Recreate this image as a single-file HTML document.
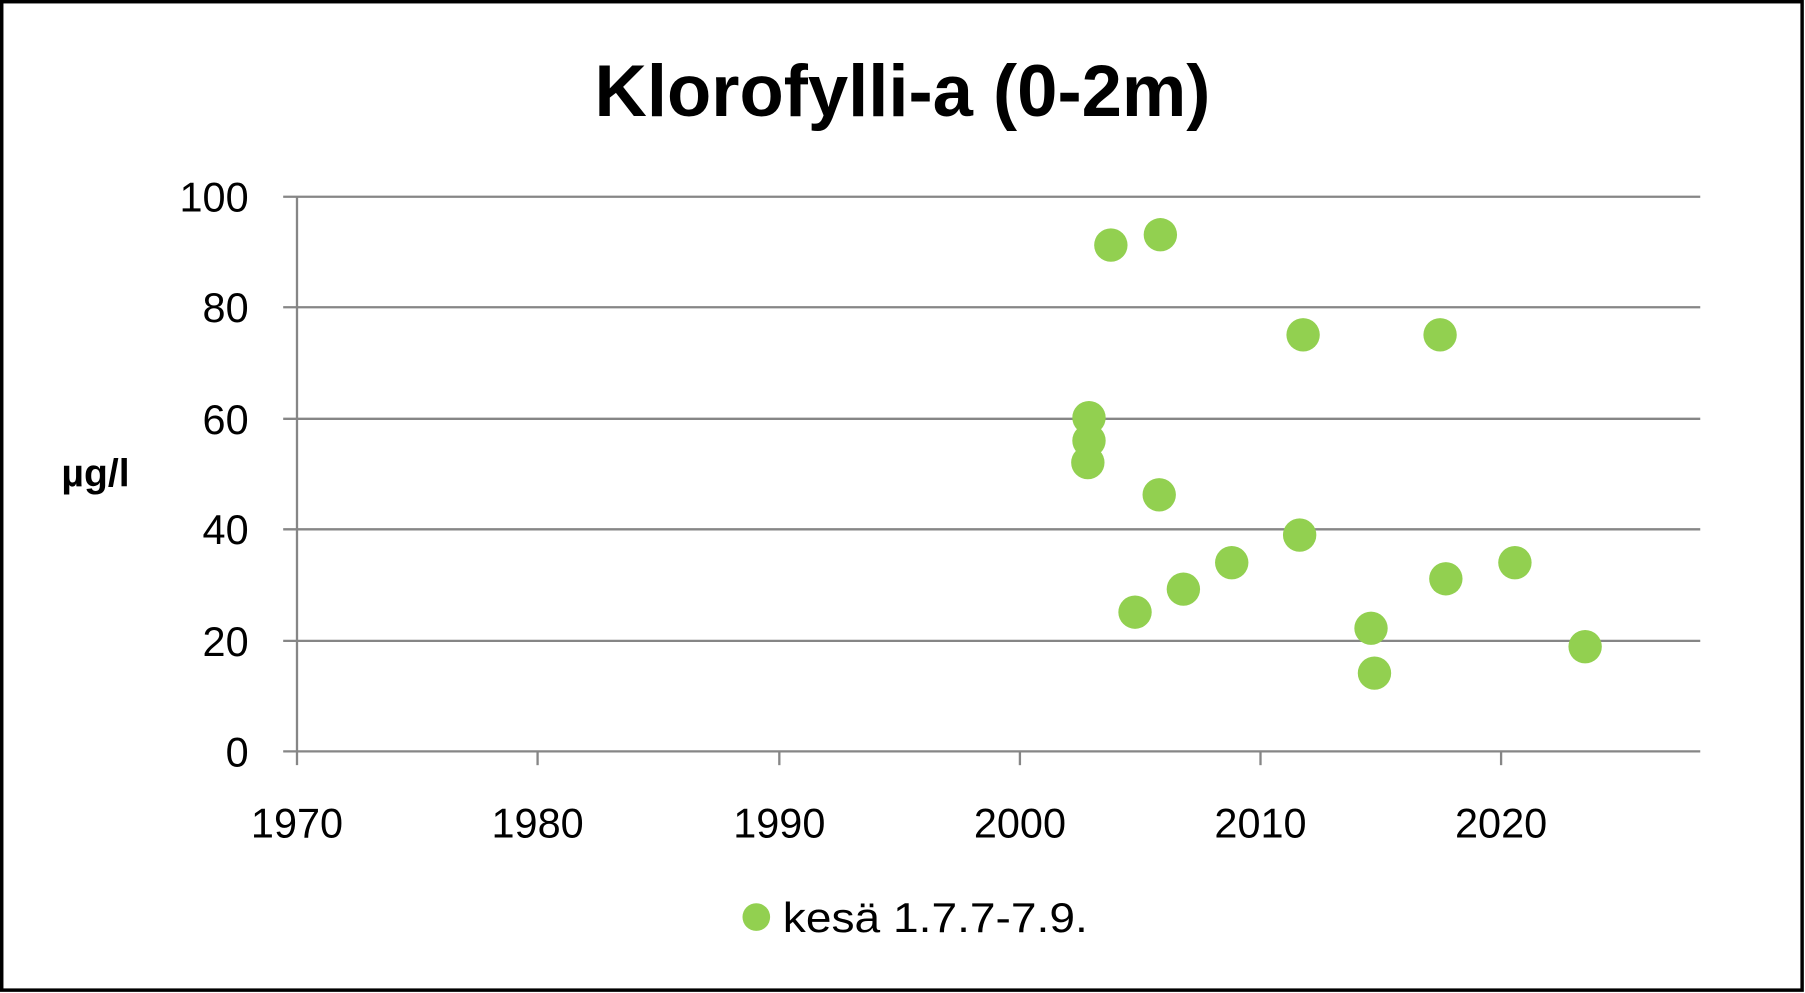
<!DOCTYPE html>
<html><head><meta charset="utf-8"><style>html,body{margin:0;padding:0;background:#fff;}svg{display:block;}</style></head>
<body>
<svg width="1805" height="993" viewBox="0 0 1568 863" preserveAspectRatio="none" xmlns="http://www.w3.org/2000/svg" font-family="'Liberation Sans', sans-serif">
<rect x="1.5" y="1.5" width="1564" height="859" fill="#fff" stroke="#000" stroke-width="3"/>
<text x="784" y="101" text-anchor="middle" font-size="64" font-weight="bold" textLength="535" lengthAdjust="spacingAndGlyphs">Klorofylli-a (0-2m)</text>
<g stroke="#868686" stroke-width="2">
<line x1="246" y1="171" x2="1477" y2="171"/>
<line x1="246" y1="267" x2="1477" y2="267"/>
<line x1="246" y1="364" x2="1477" y2="364"/>
<line x1="246" y1="460" x2="1477" y2="460"/>
<line x1="246" y1="557" x2="1477" y2="557"/>
<line x1="246" y1="653" x2="1477" y2="653"/>
<line x1="258" y1="171" x2="258" y2="665"/>
<line x1="467" y1="653" x2="467" y2="665"/>
<line x1="677" y1="653" x2="677" y2="665"/>
<line x1="886" y1="653" x2="886" y2="665"/>
<line x1="1095" y1="653" x2="1095" y2="665"/>
<line x1="1304" y1="653" x2="1304" y2="665"/>
</g>
<g font-size="36" text-anchor="end">
<text x="216" y="184">100</text><text x="216" y="280">80</text><text x="216" y="377">60</text>
<text x="216" y="473">40</text><text x="216" y="570">20</text><text x="216" y="666">0</text>
</g>
<g font-size="36" text-anchor="middle">
<text x="258" y="728">1970</text><text x="467" y="728">1980</text><text x="677" y="728">1990</text>
<text x="886" y="728">2000</text><text x="1095" y="728">2010</text><text x="1304" y="728">2020</text>
</g>
<text x="83" y="423" text-anchor="middle" font-size="34" font-weight="bold">µg/l</text>
<g fill="#92d050">
<circle cx="965" cy="213" r="14.5"/><circle cx="1008" cy="204" r="14.5"/><circle cx="1132" cy="291" r="14.5"/>
<circle cx="1251" cy="291" r="14.5"/><circle cx="946" cy="363" r="14.5"/><circle cx="946" cy="383" r="14.5"/>
<circle cx="945" cy="402" r="14.5"/><circle cx="1007" cy="430" r="14.5"/><circle cx="1129" cy="465" r="14.5"/>
<circle cx="1070" cy="489" r="14.5"/><circle cx="1028" cy="512" r="14.5"/><circle cx="986" cy="532" r="14.5"/>
<circle cx="1316" cy="489" r="14.5"/><circle cx="1256" cy="503" r="14.5"/><circle cx="1191" cy="546" r="14.5"/>
<circle cx="1194" cy="585" r="14.5"/><circle cx="1377" cy="562" r="14.5"/>
<circle cx="657" cy="797" r="12"/>
</g>
<text x="680" y="810" font-size="36" textLength="265" lengthAdjust="spacingAndGlyphs">kesä 1.7.7-7.9.</text>
</svg>
</body></html>
